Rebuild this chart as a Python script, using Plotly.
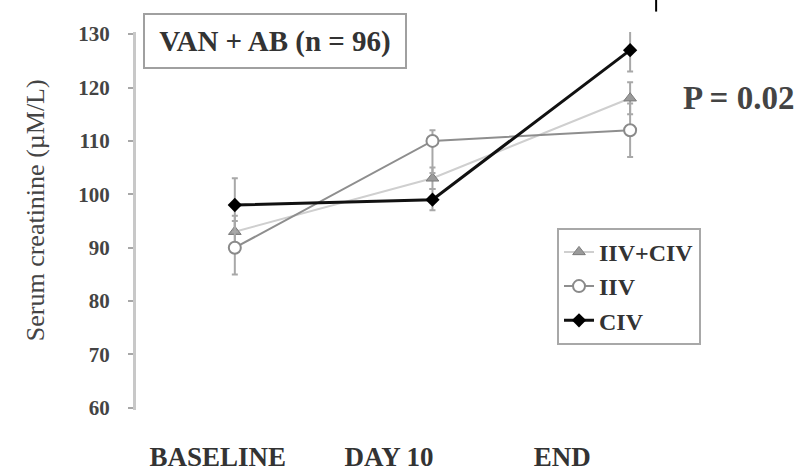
import plotly.graph_objects as go

# Time points and group means of serum creatinine (µM/L)
timepoints = [0, 1, 2]
timepoint_labels = ["BASELINE", "DAY 10", "END"]

civ_iiv_mean = [93, 103, 118]
iiv_mean = [90, 110, 112]
civ_mean = [98, 99, 127]

# Error bar half-widths (upper / lower)
civ_iiv_err = [3, 2, 3]
iiv_err_up = [5, 2, 5]
iiv_err_down = [5, 6, 5]
civ_err = [5, 2, 4]

y_ticks = [60, 70, 80, 90, 100, 110, 120, 130]

SERIF = "Liberation Serif"
ERR_COLOR = "#a8a8a8"

fig = go.Figure()

fig.add_trace(go.Scatter(
    x=timepoints, y=civ_iiv_mean, name="<b>IIV+CIV</b>", legendgroup="a",
    mode="lines+markers", cliponaxis=False,
    line=dict(color="#cfcfcf", width=2),
    marker=dict(symbol="triangle-up", size=11, color="#9a9a9a",
                line=dict(color="#7a7a7a", width=1)),
    error_y=dict(type="data", array=civ_iiv_err, color=ERR_COLOR,
                 thickness=2, width=3),
))

fig.add_trace(go.Scatter(
    x=timepoints, y=iiv_mean, name="<b>IIV</b>", legendgroup="b",
    mode="lines+markers", cliponaxis=False,
    line=dict(color="#8e8e8e", width=2),
    marker=dict(symbol="circle", size=12, color="white",
                line=dict(color="#8a8a8a", width=2)),
    error_y=dict(type="data", symmetric=False, array=iiv_err_up,
                 arrayminus=iiv_err_down, color=ERR_COLOR,
                 thickness=2, width=3),
))

fig.add_trace(go.Scatter(
    x=timepoints, y=civ_mean, name="<b>CIV</b>", legendgroup="c",
    mode="lines+markers", cliponaxis=False,
    line=dict(color="#111111", width=3),
    marker=dict(symbol="diamond", size=11, color="black"),
    error_y=dict(type="data", array=civ_err, color=ERR_COLOR,
                 thickness=2, width=3),
))

fig.update_layout(
    width=808, height=476,
    margin=dict(l=136, r=0, t=32, b=66),
    paper_bgcolor="white", plot_bgcolor="white",
    font=dict(family=SERIF, color="#333333"),
    legend=dict(
        x=0.6265, y=0.482, xanchor="left", yanchor="top",
        bordercolor="#a8a8a8", borderwidth=2, bgcolor="white",
        font=dict(family=SERIF, size=24, color="#333333"),
        traceorder="grouped", tracegroupgap=0,
    ),
    xaxis=dict(
        range=[-0.5, 2.9],
        tickvals=[-0.086, 0.78, 1.656],
        ticktext=[f"<b>{t}</b>" for t in timepoint_labels],
        tickfont=dict(family=SERIF, size=27, color="#333333"),
        showline=False, showgrid=False, zeroline=False,
        ticks="", ticklabelstandoff=28,
    ),
    yaxis=dict(
        range=[59.6, 130.4],
        tickvals=y_ticks,
        ticktext=[f"<b>{v}</b>" for v in y_ticks],
        tickfont=dict(family=SERIF, size=21, color="#444444"),
        showline=True, linecolor="#c8c8c8", linewidth=3,
        ticks="outside", ticklen=5, tickwidth=2, tickcolor="#a8a8a8",
        ticklabelstandoff=14,
        showgrid=False, zeroline=False,
    ),
    annotations=[
        dict(text="<b>VAN + AB (n = 96)</b>", xref="paper", yref="paper",
             x=0.2068, y=0.977, xanchor="center", yanchor="middle",
             showarrow=False, width=258, height=50,
             bordercolor="#a0a0a0", borderwidth=2, bgcolor="white",
             font=dict(family=SERIF, size=29, color="#333333")),
        dict(text="<b>P = 0.02</b>", xref="paper", yref="paper",
             x=0.897, y=0.825, xanchor="center", yanchor="middle",
             showarrow=False,
             font=dict(family=SERIF, size=33, color="#444444")),
        dict(text="Serum creatinine (µM/L)", xref="paper", yref="paper",
             x=-0.150, y=0.529, xanchor="center", yanchor="middle",
             textangle=-90, showarrow=False,
             font=dict(family=SERIF, size=26, color="#444444")),
    ],
    shapes=[
        dict(type="line", xref="paper", yref="paper",
             x0=0.774, x1=0.774, y0=1.085, y1=1.054,
             line=dict(color="black", width=2)),
    ],
)

fig.write_html("out.html")
